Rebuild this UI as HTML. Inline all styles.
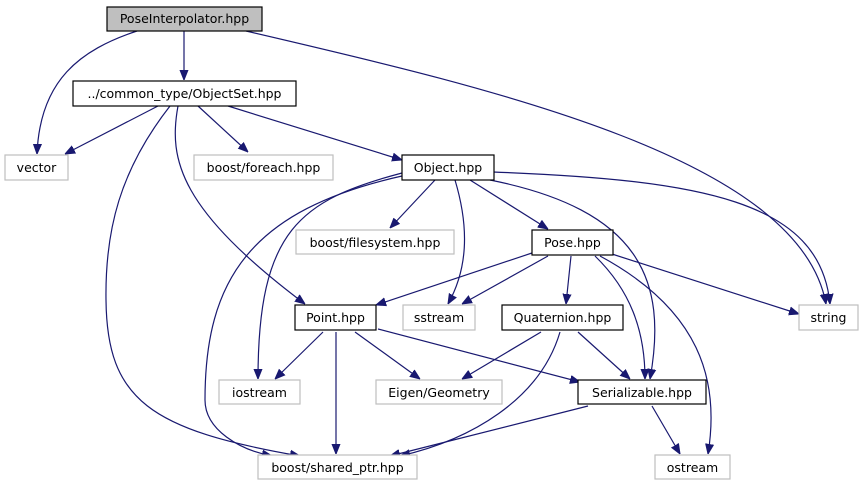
<!DOCTYPE html>
<html><head><meta charset="utf-8"><style>
body{margin:0;background:#fff;}
svg{display:block;}
text{font-family:"DejaVu Sans","Liberation Sans",sans-serif;font-size:12.5px;text-anchor:middle;fill:#000;}
.e{fill:none;stroke:#191970;stroke-width:1.2;marker-end:url(#a);}
.g{fill:#fff;stroke:#bfbfbf;stroke-width:1.2;}
.b{fill:#fff;stroke:#000;stroke-width:1.2;}
</style></head><body>
<svg width="863" height="485" viewBox="0 0 863 485">
<defs><marker id="a" viewBox="0 0 10 10" refX="10" refY="5" markerWidth="10" markerHeight="10" markerUnits="userSpaceOnUse" orient="auto"><path d="M0,1 L10,5 L0,9 z" fill="#191970" stroke="#191970"/></marker></defs>
<path class="e" d="M137,31 C80,50 40,80 37,154"/>
<path class="e" d="M184,31 L184,80"/>
<path class="e" d="M246,31 C500,90 800,160 826,304"/>
<path class="e" d="M158,106 L65,154"/>
<path class="e" d="M198,106 L248,152"/>
<path class="e" d="M228,106 L402,160"/>
<path class="e" d="M178,106 C168,160 180,210 305,304"/>
<path class="e" d="M170,106 C120,170 105,230 106,300 C107,400 150,430 300,456"/>
<path class="e" d="M435,180 L390,228"/>
<path class="e" d="M455,180 C470,230 467,270 448,304"/>
<path class="e" d="M470,180 L548,229"/>
<path class="e" d="M490,180 C640,210 668,280 650,379"/>
<path class="e" d="M493,172 C700,180 820,200 830,304"/>
<path class="e" d="M402,173 C300,200 258,230 258,379"/>
<path class="e" d="M402,176 C250,210 205,280 205,400 C205,430 240,450 272,456"/>
<path class="e" d="M532,253 L376,305"/>
<path class="e" d="M548,256 L462,304"/>
<path class="e" d="M571,256 L566,304"/>
<path class="e" d="M595,256 C630,290 645,330 645,379"/>
<path class="e" d="M600,256 C700,310 720,380 708,454"/>
<path class="e" d="M612,254 L799,314"/>
<path class="e" d="M323,332 L275,379"/>
<path class="e" d="M355,332 L420,379"/>
<path class="e" d="M378,329 L580,382"/>
<path class="e" d="M336,332 L336,454"/>
<path class="e" d="M541,332 L462,379"/>
<path class="e" d="M578,332 L630,379"/>
<path class="e" d="M560,332 C540,400 470,440 400,456"/>
<path class="e" d="M588,406 L390,456"/>
<path class="e" d="M652,406 L680,454"/>

<rect x="107" y="7" width="155" height="24" fill="#bfbfbf" stroke="#000" stroke-width="1.2"/><text x="184.5" y="23">PoseInterpolator.hpp</text>
<rect class="b" x="73" y="81" width="223" height="25"/><text x="184.5" y="98">../common_type/ObjectSet.hpp</text>
<rect class="g" x="5" y="155" width="63" height="25"/><text x="36.5" y="172">vector</text>
<rect class="g" x="194" y="155" width="139" height="25"/><text x="263.5" y="172">boost/foreach.hpp</text>
<rect class="b" x="402" y="155" width="92" height="25"/><text x="448" y="172">Object.hpp</text>
<rect class="g" x="296" y="230" width="158" height="24"/><text x="375" y="247">boost/filesystem.hpp</text>
<rect class="b" x="532" y="230" width="81" height="25"/><text x="572.5" y="247">Pose.hpp</text>
<rect class="b" x="295" y="305" width="81" height="25"/><text x="335.5" y="322">Point.hpp</text>
<rect class="g" x="403" y="305" width="72" height="25"/><text x="439" y="322">sstream</text>
<rect class="b" x="502" y="305" width="121" height="25"/><text x="562.5" y="322">Quaternion.hpp</text>
<rect class="g" x="799" y="305" width="59" height="25"/><text x="828.5" y="322">string</text>
<rect class="g" x="219" y="380" width="81" height="24"/><text x="259.5" y="397">iostream</text>
<rect class="g" x="376" y="380" width="126" height="24"/><text x="439" y="397">Eigen/Geometry</text>
<rect class="b" x="578" y="380" width="128" height="24"/><text x="642" y="397">Serializable.hpp</text>
<rect class="g" x="258" y="455" width="159" height="24"/><text x="337.5" y="472">boost/shared_ptr.hpp</text>
<rect class="g" x="655" y="455" width="75" height="24"/><text x="692.5" y="472">ostream</text>
</svg>
</body></html>
